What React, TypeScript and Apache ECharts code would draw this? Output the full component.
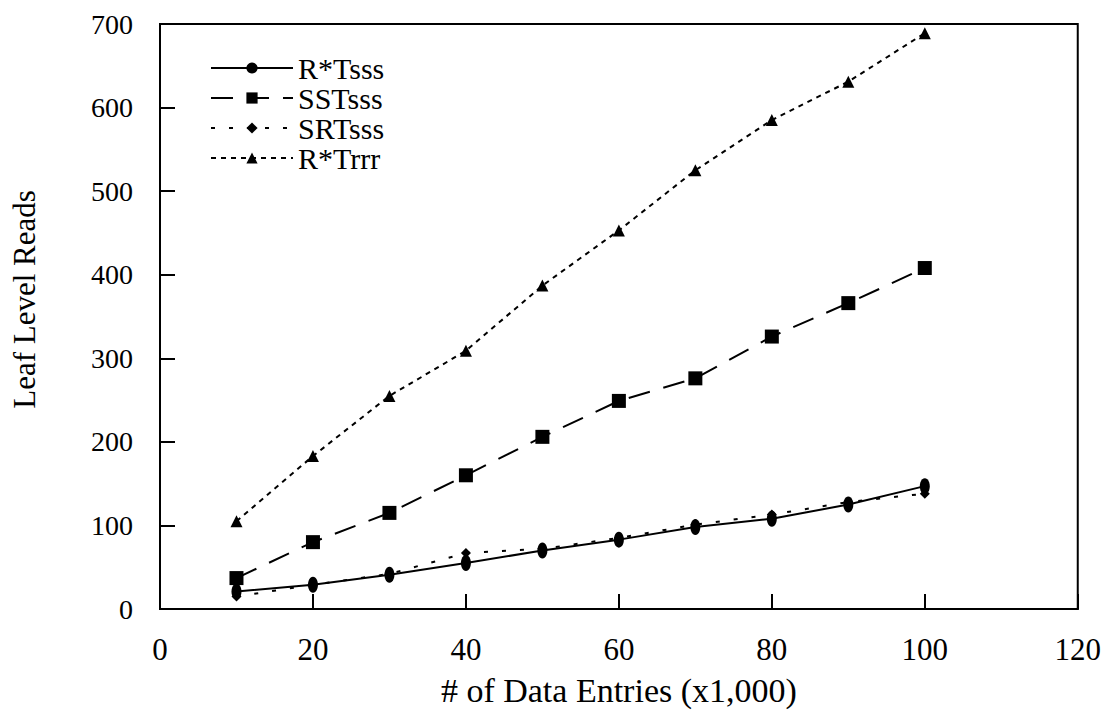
import React, { useEffect, useRef } from "react";
import * as echarts from "echarts";

const entries = [10, 20, 30, 40, 50, 60, 70, 80, 90, 100];
const rtsss = [21, 29, 41, 55, 70, 83, 98, 108, 125, 147];
const ssttsss = [37, 80, 115, 160, 206, 249, 276, 326, 366, 408];
const srtsss = [15, 29, 42, 67, 72, 85, 101, 113, 128, 138];
const rtrrr = [105, 183, 255, 309, 387, 453, 525, 585, 631, 689];

const seriesNames = ["R*Tsss", "SSTsss", "SRTsss", "R*Trrr"];
const FONT = "'Liberation Serif', 'Times New Roman', serif";

function pairs(ys: number[]) {
  return entries.map((x, i) => [x, ys[i]]);
}

export default function App() {
  const ref = useRef<HTMLDivElement>(null);
  useEffect(() => {
    if (!ref.current) return;
    const chart = echarts.init(ref.current, undefined, { renderer: "svg" });
    chart.setOption({
      animation: false,
      backgroundColor: "#fff",
      grid: {
        left: 160,
        right: 25,
        top: 24,
        bottom: 106,
        show: true,
        borderColor: "#000",
        borderWidth: 2,
        backgroundColor: "transparent",
      },
      legend: {
        orient: "vertical",
        left: 205,
        top: 48,
        itemWidth: 82,
        itemHeight: 14,
        itemGap: 0,
        textStyle: { fontFamily: FONT, fontSize: 30, color: "#000", lineHeight: 29 },
        data: seriesNames,
      },
      xAxis: {
        type: "value",
        min: 0,
        max: 120,
        interval: 20,
        name: "# of Data Entries (x1,000)",
        nameLocation: "middle",
        nameGap: 64,
        nameTextStyle: { fontFamily: FONT, fontSize: 34, color: "#000" },
        axisLine: { show: true, lineStyle: { color: "#000", width: 2 } },
        axisTick: { show: true, inside: true, length: 15, lineStyle: { color: "#000", width: 2 } },
        axisLabel: { fontFamily: FONT, fontSize: 31, color: "#000", margin: 25 },
        splitLine: { show: false },
      },
      yAxis: {
        type: "value",
        min: 0,
        max: 700,
        interval: 100,
        name: "Leaf Level Reads",
        nameLocation: "middle",
        nameGap: 120,
        nameTextStyle: { fontFamily: FONT, fontSize: 31, color: "#000", padding: [0, 0, 0, 34] },
        axisLine: { show: true, lineStyle: { color: "#000", width: 2 } },
        axisTick: { show: true, inside: true, length: 15, lineStyle: { color: "#000", width: 2 } },
        axisLabel: { fontFamily: FONT, fontSize: 28, color: "#000", margin: 27 },
        splitLine: { show: false },
      },
      series: [
        {
          name: seriesNames[0],
          type: "line",
          data: pairs(rtsss),
          symbol: "circle",
          symbolSize: [10, 16],
          itemStyle: { color: "#000" },
          lineStyle: { color: "#000", width: 2, type: "solid" },
        },
        {
          name: seriesNames[1],
          type: "line",
          data: pairs(ssttsss),
          symbol: "rect",
          symbolSize: 14,
          itemStyle: { color: "#000" },
          lineStyle: { color: "#000", width: 2, type: [22, 14] },
        },
        {
          name: seriesNames[2],
          type: "line",
          data: pairs(srtsss),
          symbol: "diamond",
          symbolSize: 10,
          itemStyle: { color: "#000" },
          lineStyle: { color: "#000", width: 2, type: [4, 14] },
        },
        {
          name: seriesNames[3],
          type: "line",
          data: pairs(rtrrr),
          symbol: "triangle",
          symbolSize: 12,
          itemStyle: { color: "#000" },
          lineStyle: { color: "#000", width: 2, type: [5, 5] },
        },
      ],
    });
    return () => chart.dispose();
  }, []);
  return <div ref={ref} style={{ width: 1104, height: 715, position: "absolute", left: 0, top: 0 }} />;
}
